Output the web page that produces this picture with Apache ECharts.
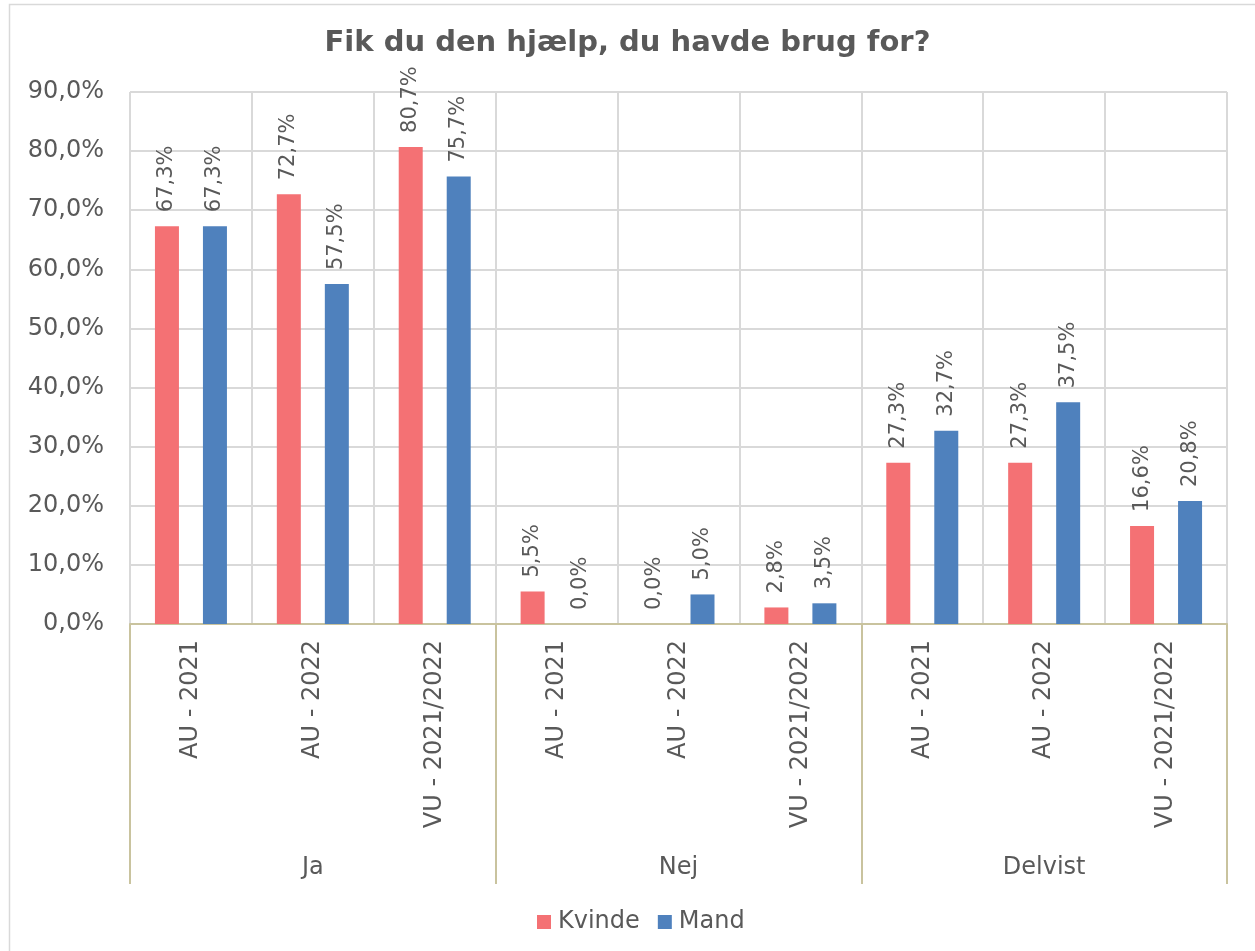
<!DOCTYPE html>
<html>
<head>
<meta charset="utf-8">
<script src="https://cdn.jsdelivr.net/npm/echarts@6/dist/echarts.min.js"></script>
<style>
	html, body { margin: 0; padding: 0; background: #fff; }
	#chart { width: 1255px; height: 951px; }
</style>
</head>
<body>
<div id="chart"></div>
<script>
// Data
var periods = ['AU - 2021', 'AU - 2022', 'VU - 2021/2022', 'AU - 2021', 'AU - 2022', 'VU - 2021/2022', 'AU - 2021', 'AU - 2022', 'VU - 2021/2022'];
var answers = ['Ja', 'Nej', 'Delvist'];
var kvinde = [67.3, 72.7, 80.7, 5.5, 0.0, 2.8, 27.3, 27.3, 16.6];
var mand = [67.3, 57.5, 75.7, 0.0, 5.0, 3.5, 32.7, 37.5, 20.8];
var yTicks = [0, 90, 10];	// min, max, interval

var font = 'DejaVu Sans';
var textColor = '#595959';
var axisColor = '#C9C39E';

function pct(v) {	// 67.3 -> "67,3%"
	return v.toFixed(1).replace('.', ',') + '%';
}

function barSeries(name, values, color) {
	return {
		name: name,
		type: 'bar',
		data: values,
		barWidth: 24,
		barGap: '100%',
		itemStyle: { color: color },
		label: {
			show: true,
			position: 'top',
			distance: 14,
			rotate: 90,
			align: 'left',
			verticalAlign: 'middle',
			fontFamily: font,
			fontSize: 21,
			color: textColor,
			formatter: function(p) { return pct(p.value); }
		}
	};
}

var chart = echarts.init(document.getElementById('chart'), null, { renderer: 'canvas' });
chart.setOption({
	animation: false,
	backgroundColor: '#fff',
	graphic: [{
		type: 'rect',
		shape: { x: 9.5, y: 4.5, width: 1300, height: 1000 },
		style: { fill: 'none', stroke: '#D9D9D9', lineWidth: 1.5 },
		silent: true
	}],
	title: {
		text: 'Fik du den hjælp, du havde brug for?',
		left: 'center',
		top: 24,
		textStyle: { fontFamily: font, fontSize: 29, fontWeight: 'bold', color: textColor }
	},
	legend: {
		data: ['Kvinde', 'Mand'],
		left: 532,
		top: 905,
		icon: 'rect',
		itemWidth: 14,
		itemHeight: 14,
		itemGap: 18,
		textStyle: { fontFamily: font, fontSize: 24, color: textColor, padding: [0, 0, 0, 2] }
	},
	grid: { left: 130, right: 28, top: 92, bottom: 327, containLabel: false },
	xAxis: [{
		type: 'category',
		data: periods,
		position: 'bottom',
		axisLine: { show: true, lineStyle: { color: axisColor, width: 2 } },
		axisTick: { show: false },
		splitLine: { show: true, interval: 0, lineStyle: { color: '#D9D9D9', width: 2 } },
		axisLabel: {
			interval: 0,
			rotate: 90,
			margin: 16,
			fontFamily: font,
			fontSize: 24,
			color: textColor
		}
	}, {
		type: 'category',
		data: answers,
		position: 'bottom',
		axisLine: { show: false },
		axisTick: { show: true, interval: 0, length: 260, lineStyle: { color: axisColor, width: 2 } },
		axisLabel: {
			interval: 0,
			margin: 232,
			fontFamily: font,
			fontSize: 24,
			color: textColor
		}
	}],
	yAxis: {
		type: 'value',
		min: yTicks[0],
		max: yTicks[1],
		interval: yTicks[2],
		axisLine: { show: false },
		axisTick: { show: false },
		splitLine: { lineStyle: { color: '#D9D9D9', width: 2 } },
		axisLabel: {
			margin: 26,
			fontFamily: font,
			fontSize: 24,
			color: textColor,
			formatter: function(v) { return pct(v); }
		}
	},
	series: [
		barSeries('Kvinde', kvinde, '#F47174'),
		barSeries('Mand', mand, '#4F81BD')
	]
});
</script>
</body>
</html>
